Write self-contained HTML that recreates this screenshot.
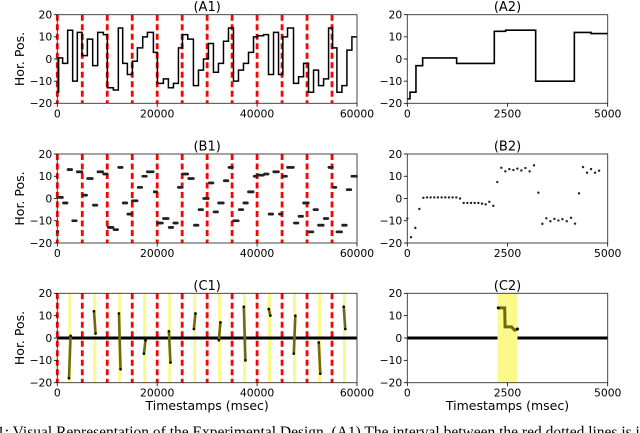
<!DOCTYPE html>
<html><head><meta charset="utf-8"><style>
body{margin:0;background:#fff}
svg{display:block}
text{font-family:"DejaVu Sans","Liberation Sans",sans-serif;fill:#000}
.cap{font-family:"Liberation Serif",serif;font-size:15.5px}
</style></head><body>
<svg id="fig" width="640" height="433" viewBox="0 0 640 433" xmlns="http://www.w3.org/2000/svg"></svg>
<script>
// ---- data ----
const a1Times=[0,267,1069,2071,3073,4009,4944,6013,7082,8084,9220,10020,11220,12220,13090,14030,15030,16030,17100,18040,19240,20040,21240,22240,23250,24250,25050,26120,27250,28260,29260,30260,31260,32260,33270,34270,35270,36270,37270,38280,39280,40080,41280,42280,43290,44290,45160,46090,47290,48300,49300,50300,51300,52300,53310,54310,55110,55980,56980,57980,58980];
const a1Values=[-15,0.5,-2,13,-10,12,1.5,9,-3,12,11,-13,-14,14,-2,-7,-1,5,10,12,3,-11,-9,-13,-11,5,11,9,-12,-5,0,7,-6,-2,8,14,-10,-5,-2,3,10,10.5,11,-7,12,-7,10,14,-11,-8,-2,-15,-5,-12,-9,14,5,-15,-12,4,10];
const a2Times=[0,67,216,300,383,1231,2171,2454,3203,4168,4584];
const a2Values=[-18,-15,-3,-3,0.5,-2,12.5,13,-10,12,11.5];
const b2Times=[0,92,200,300,400,491,582,674,765,857,948,1040,1132,1223,1315,1406,1498,1590,1681,1773,1864,1956,2047,2146,2246,2346,2446,2546,2646,2746,2846,2946,3053,3161,3270,3370,3470,3570,3670,3770,3870,3978,4085,4185,4285,4385,4485,4585,4685,4785];
const b2Values=[-9,-17.4,-13.2,-4.7,0.3,0.5,0.5,0.5,0.5,0.5,0.5,0.5,0.5,0.5,0,-2,-2,-2,-2,-2,-2.3,-2.6,-1.5,-3.3,7.4,13.8,12.2,13.2,12.8,13.4,12.6,13.7,12.2,14.9,2.6,-11.4,-8.9,-10.2,-9.2,-9.9,-9.3,-10.2,-8.7,-11.3,2.3,14.1,11.6,13.2,11.6,12.5];
const redLines=[0,5000,10000,15000,20000,25000,30000,35000,40000,45000,50000,55000];
const bandStarts=[2200,7200,12200,17200,22200,27200,32200,37200,42200,47200,52200,57200];
const segStart=[-18,12,11,-7,3,4,-1,14,13,-7,-2,14];
const segEnd=[1,2,-14,-1,-11,11,7,-10,10,10,-16,4];
const c2Times=[2270,2430,2440,2600,2650,2680,2750];
const c2Values=[13.5,13.5,5,5,4,3.5,4];
const yTicks=[20,10,0,-10,-20];
const xTicksL=[0,20000,40000,60000];
const xTicksR=[0,2500,5000];

const NS="http://www.w3.org/2000/svg";
const svg=document.getElementById('fig');
function mk(tag,attrs,parent){const e=document.createElementNS(NS,tag);for(const k in attrs)e.setAttribute(k,attrs[k]);(parent||svg).appendChild(e);return e;}

const rows=[{top:14.7,bot:103.3,name:'A'},{top:154,bot:243,name:'B'},{top:293.3,bot:382.7,name:'C'}];
const cols=[{l:57.3,r:357,max:60000,ticks:xTicksL,n:'1'},{l:407.3,r:607.7,max:5000,ticks:xTicksR,n:'2'}];

function axes(ri,ci){
  const R=rows[ri],C=cols[ci];
  const g=mk('g',{});
  
  
  const xs=v=>C.l+(v/C.max)*(C.r-C.l);
  const ys=v=>R.top+(20-v)/40*(R.bot-R.top);
  return {g,xs,ys,R,C};
}
function frame(ax){
  const {g,xs,ys,R,C}=ax;
  const fr=mk('rect',{x:C.l,y:R.top,width:C.r-C.l,height:R.bot-R.top,fill:'none',stroke:'#333','stroke-width':0.9},g);
  
  
  yTicks.forEach(v=>{
    mk('line',{x1:C.l-3.5,x2:C.l,y1:ys(v),y2:ys(v),stroke:'#000','stroke-width':0.8},g);
    const t=mk('text',{x:C.l-5,y:ys(v)+3.8,'text-anchor':'end','font-size':10.8},g);
    t.textContent=v<0?'\u2212'+Math.abs(v):String(v);
    
    
  });
  C.ticks.forEach(v=>{
    mk('line',{x1:xs(v),x2:xs(v),y1:R.bot,y2:R.bot+3.5,stroke:'#000','stroke-width':0.8},g);
    const t=mk('text',{x:xs(v),y:R.bot+14,'text-anchor':'middle','font-size':10.8},g);
    t.textContent=String(v);
    
    
  });
  const ti=mk('text',{x:(C.l+C.r)/2,y:R.top-3.5,'text-anchor':'middle','font-size':13},g);
  ti.textContent='('+R.name+C.n+')';
  
  
  if(C.n==='1'){
    const yl=mk('text',{x:0,y:0,'text-anchor':'middle','font-size':12.5,transform:`translate(24,${(R.top+R.bot)/2}) rotate(-90)`},g);
    yl.textContent='Hor. Pos.';
    
    
  }
  if(R.name==='C'){
    const xl=mk('text',{x:(C.l+C.r)/2,y:410,'text-anchor':'middle','font-size':12.5},g);
    xl.textContent='Timestamps (msec)';
    
    
  }
}
function redDashes(ax){
  redLines.forEach(t=>{
    const l=mk('line',{x1:ax.xs(t),x2:ax.xs(t),y1:ax.R.top,y2:ax.R.bot,stroke:'#ff0000','stroke-width':2.8,'stroke-dasharray':'6,3.5'},ax.g);
    
    
  });
}
function stepPath(ax,times,vals,end){
  let d='';
  for(let i=0;i<times.length;i++){
    const x0=ax.xs(times[i]),x1=ax.xs(i+1<times.length?times[i+1]:end),y=ax.ys(vals[i]);
    d+=(i===0?'M':'L')+x0+','+y+'L'+x1+','+y;
  }
  return d;
}
function valueAt(times,vals,t){let v=vals[0];for(let i=0;i<times.length;i++){if(times[i]<=t)v=vals[i];}return v;}

// A1
let ax=axes(0,0);
redDashes(ax);
let p=mk('path',{d:stepPath(ax,a1Times,a1Values,60000),fill:'none',stroke:'#000','stroke-width':1.5},ax.g);


frame(ax);
// A2
ax=axes(0,1);
p=mk('path',{d:stepPath(ax,a2Times,a2Values,5000),fill:'none',stroke:'#000','stroke-width':1.6},ax.g);


frame(ax);
// B1
ax=axes(1,0);
redDashes(ax);
for(let t=100;t<60000;t+=230){
  const c=mk('circle',{cx:ax.xs(t),cy:ax.ys(valueAt(a1Times,a1Values,t)),r:1.4,fill:'#222'},ax.g);
  
  
}
frame(ax);
// B2
ax=axes(1,1);
b2Times.forEach((t,i)=>{
  const c=mk('circle',{cx:ax.xs(t),cy:ax.ys(b2Values[i]),r:1.2,fill:'#222'},ax.g);
  
  
});
frame(ax);
// C1
ax=axes(2,0);
bandStarts.forEach(t=>{
  const r=mk('rect',{x:ax.xs(t),y:ax.R.top,width:ax.xs(t+600)-ax.xs(t),height:ax.R.bot-ax.R.top,fill:'#fbf88c'},ax.g);
  
  
});
redDashes(ax);
p=mk('line',{x1:ax.C.l,x2:ax.C.r,y1:ax.ys(0),y2:ax.ys(0),stroke:'#000','stroke-width':3},ax.g);


bandStarts.forEach((t,i)=>{
  const x=ax.xs(t+300);
  const l=mk('line',{x1:x-0.8,x2:x+0.8,y1:ax.ys(segStart[i]),y2:ax.ys(segEnd[i]),stroke:'#6e6a10','stroke-width':2.6},ax.g);
  
  
  [[x-0.8,segStart[i]],[x+0.8,segEnd[i]]].forEach(q=>{
    const c=mk('circle',{cx:q[0],cy:ax.ys(q[1]),r:1.3,fill:'#000'},ax.g);
    
    
  });
});
frame(ax);
// C2
ax=axes(2,1);
p=mk('rect',{x:ax.xs(2250),y:ax.R.top,width:ax.xs(2750)-ax.xs(2250),height:ax.R.bot-ax.R.top,fill:'#fbf88c'},ax.g);


[[0,2250],[2750,5000]].forEach(s=>{
  const l=mk('line',{x1:ax.xs(s[0]),x2:ax.xs(s[1]),y1:ax.ys(0),y2:ax.ys(0),stroke:'#000','stroke-width':3},ax.g);
  
  
});
let d='';c2Times.forEach((t,i)=>{d+=(i?'L':'M')+ax.xs(t)+','+ax.ys(c2Values[i]);});
p=mk('path',{d:d,fill:'none',stroke:'#6e6a10','stroke-width':3},ax.g);


[0,c2Times.length-1].forEach(i=>{
  const c=mk('circle',{cx:ax.xs(c2Times[i]),cy:ax.ys(c2Values[i]),r:1.5,fill:'#000'},ax.g);
  
  
});
frame(ax);
// caption
const cap=mk('text',{x:-3,y:437,class:'cap'});
cap.textContent='1: Visual Representation of the Experimental Design. (A1) The interval between the red dotted lines is in';


</script>
</body></html>
